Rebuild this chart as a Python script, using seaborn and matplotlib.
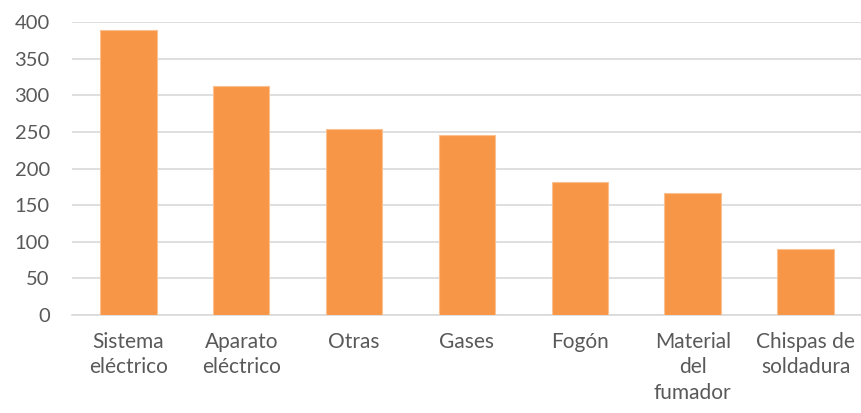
import matplotlib
matplotlib.use("Agg")
import matplotlib.pyplot as plt
import seaborn as sns
import pandas as pd

categorias = ["Sistema\neléctrico", "Aparato\neléctrico", "Otras", "Gases", "Fogón",
              "Material\ndel\nfumador", "Chispas de\nsoldadura"]
valores = [389, 313, 254, 246, 181, 166, 90]

df = pd.DataFrame({"causa": categorias, "n": valores})

sns.set_style("white")
plt.rcParams['font.family'] = ['Lato', 'DejaVu Sans']

fig = plt.figure(figsize=(8.62, 4.13), dpi=100)
ax = fig.add_axes([0.0835, 0.237, 0.9165, 0.71])

sns.barplot(data=df, x="causa", y="n", color="#F79646", saturation=1, width=0.5,
            edgecolor="#FAC090", linewidth=0.8, ax=ax, zorder=3)

ax.set_ylim(0, 400)
ax.set_yticks(range(0, 401, 50))
ax.yaxis.grid(True, color="#D9D9D9", linewidth=1.2, zorder=0)
ax.set_axisbelow(True)
for s in ["top", "right", "left"]:
    ax.spines[s].set_visible(False)
ax.spines["bottom"].set_color("#D9D9D9")
ax.spines["bottom"].set_linewidth(1.2)
ax.tick_params(axis="y", length=0, labelsize=14.5, colors="#595959", pad=16)
ax.tick_params(axis="x", length=0, labelsize=15, colors="#595959", pad=12)
ax.set_xlabel("")
ax.set_ylabel("")
for lbl in ax.get_xticklabels():
    lbl.set_linespacing(1.35)

fig.savefig("out.png", dpi=100)
